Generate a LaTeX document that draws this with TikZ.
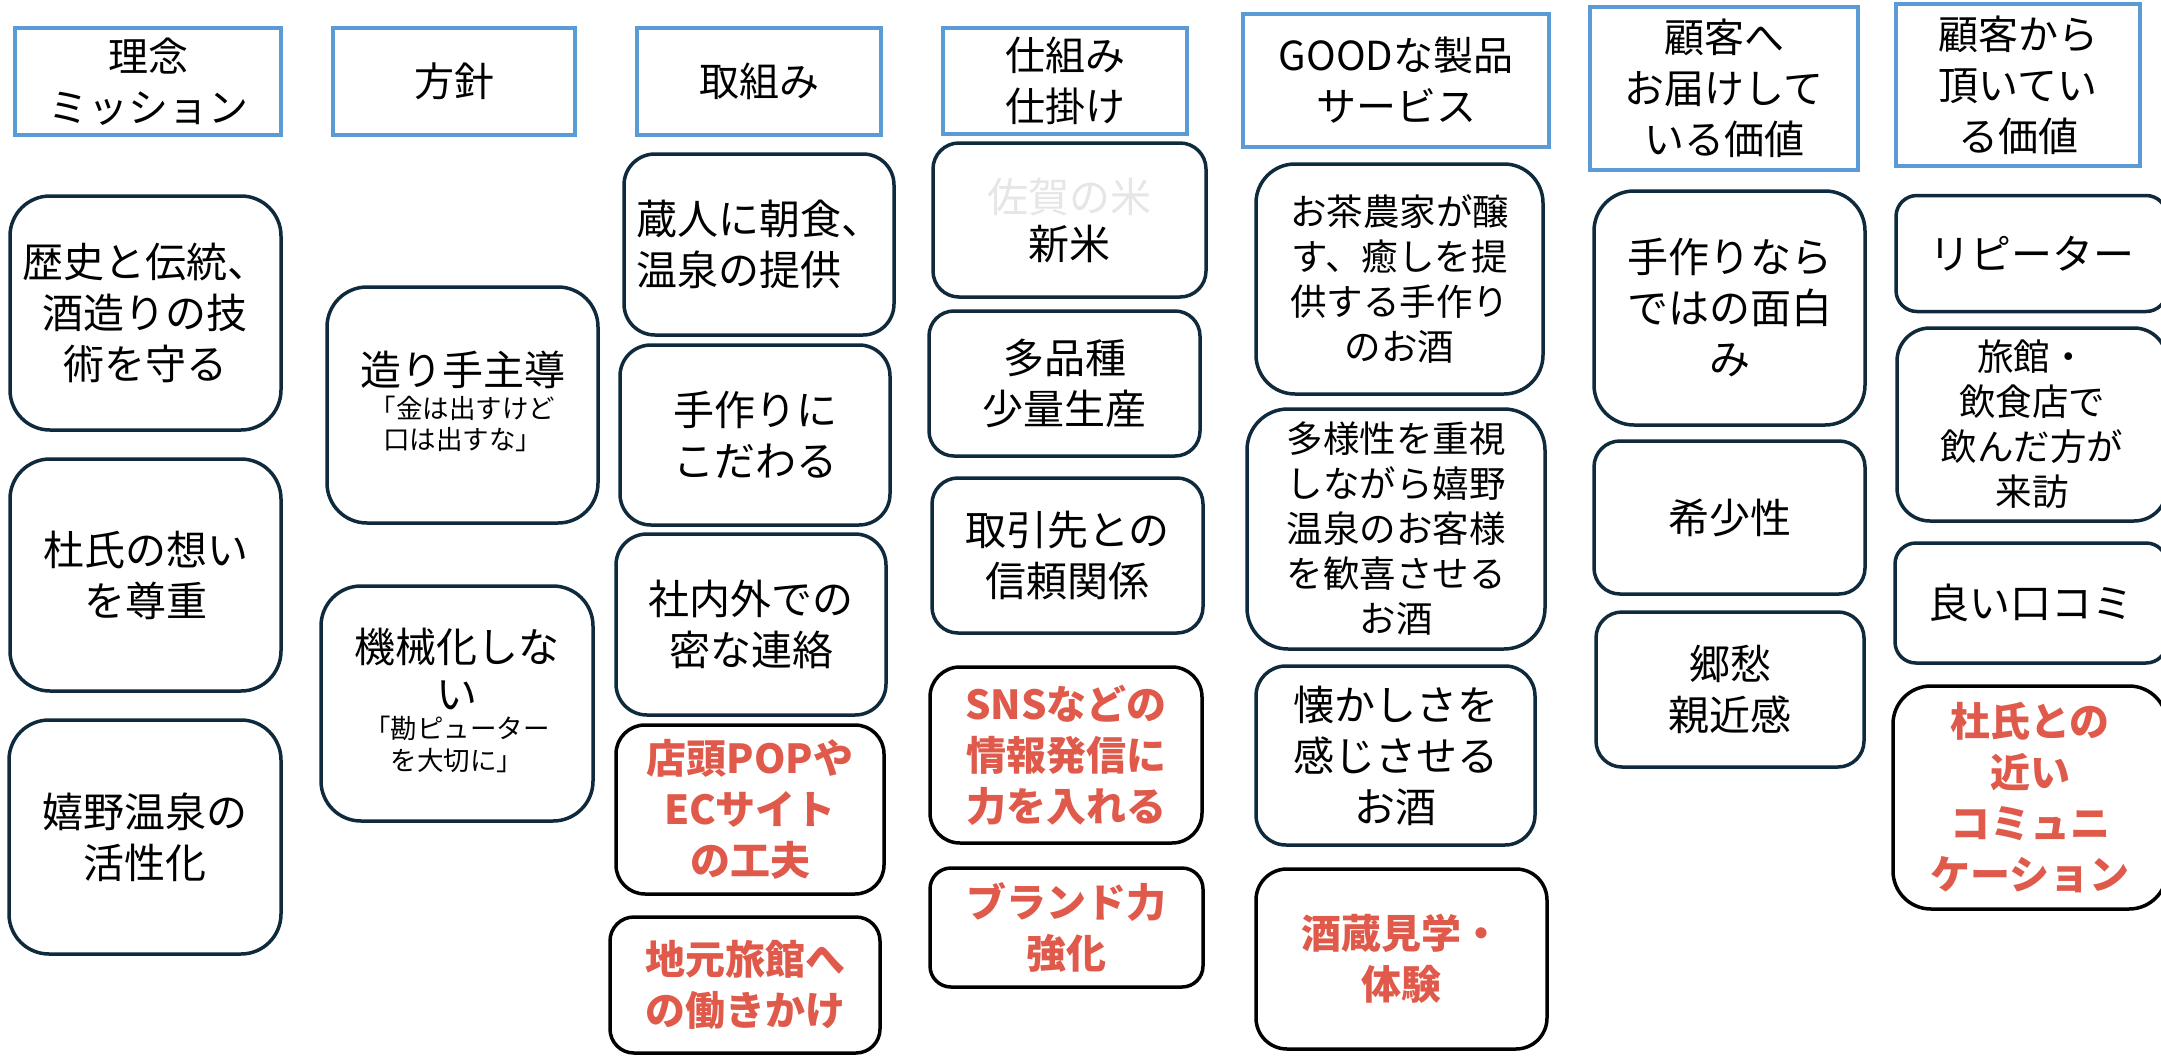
\documentclass[tikz,border=0pt]{standalone}
\usepackage{fontspec}
\newfontfamily\jp{Noto Sans CJK JP}
\definecolor{hblue}{HTML}{5B9BD5}
\definecolor{navy}{HTML}{0E2A3C}
\definecolor{redt}{HTML}{E05A4B}
\definecolor{faint}{HTML}{E6E6E6}
\tikzset{
  base/.style={inner sep=0pt, align=center, line width=3.5pt},
  hdr/.style={base, draw=hblue, font=\jp\fontsize{40}{51}\selectfont},
  rb/.style={base, draw=navy, font=\jp\fontsize{41}{51}\selectfont},
  rbs/.style={base, draw=navy, font=\jp\fontsize{36.5}{45}\selectfont},
  rbred/.style={base, draw=black, text=redt, font=\jp\bfseries\fontsize{40}{51}\selectfont},
  sz/.style 2 args={minimum width=#1pt, minimum height=#2pt},
}
\newcommand\smalltxt[1]{{\fontsize{26.5}{31}\selectfont\begin{tabular}{@{}c@{}}#1\end{tabular}}}
\begin{document}
\begin{tikzpicture}[x=1pt,y=-1pt]
\useasboundingbox (0,0) rectangle (2161,1057);
\fill[white] (0,0) rectangle (2161,1057);
\clip (0,0) rectangle (2161,1057);
% headers
\node[hdr, sz={266}{107}] (h1) at (148,81.5) {理念\\ミッション};
\node[hdr, sz={242}{107}] (h2) at (454,81.5) {方針};
\node[hdr, sz={244}{107}] (h3) at (759,81.5) {取組み};
\node[hdr, sz={244}{106}] (h4) at (1065,81) {仕組み\\仕掛け};
\node[hdr, sz={306}{133}] (h5) at (1396,80.5) {GOODな製品\\サービス};
\node[hdr, sz={268}{163}] (h6) at (1724,88.5) {顧客へ\\お届けして\\いる価値};
\node[hdr, sz={244}{162}] (h7) at (2018,85) {顧客から\\頂いてい\\る価値};
% column 1
\node[rb, sz={271}{234}, rounded corners=40pt] (b1a) at (145.5,313) {歴史と伝統、\\酒造りの技\\術を守る};
\node[rb, sz={271}{232}, rounded corners=40pt] (b1b) at (145.5,575) {杜氏の想い\\を尊重};
\node[rb, sz={272}{234}, rounded corners=40pt] (b1c) at (145,837) {嬉野温泉の\\活性化};
% column 2
\node[rb, sz={271}{236}, rounded corners=40pt] (b2a) at (462.5,405) {造り手主導\\[-3pt]\smalltxt{「金は出すけど\\口は出すな」}};
\node[rb, sz={272}{235}, rounded corners=40pt] (b2b) at (457,703.5) {機械化しな\\[-4pt]い\\[-6pt]\smalltxt{「勘ピューター\\を大切に」}};
% column 3
\node[rb, sz={270}{181}, rounded corners=31pt, align=left] (b3a) at (759,244.5) {蔵人に朝食、\\温泉の提供};
\node[rb, sz={270}{180}, rounded corners=31pt] (b3b) at (755,435) {手作りに\\こだわる};
\node[rb, sz={270}{181}, rounded corners=31pt] (b3c) at (751,624.5) {社内外での\\密な連絡};
\node[rbred, sz={268}{169}, rounded corners=29pt] (b3d) at (750,809.5) {店頭POPや\\ECサイト\\の工夫};
\node[rbred, sz={270}{136}, rounded corners=24pt] (b3e) at (745,985) {地元旅館へ\\の働きかけ};
% column 4
\node[rb, sz={273}{154}, rounded corners=26pt] (b4a) at (1069.5,220) {{\color{faint}佐賀の米}\\[-4pt]新米};
\node[rb, sz={271}{145}, rounded corners=25pt] (b4b) at (1064.5,383.5) {多品種\\少量生産};
\node[rb, sz={271}{155}, rounded corners=26pt] (b4c) at (1067.5,555.5) {取引先との\\信頼関係};
\node[rbred, sz={272}{176}, rounded corners=30pt] (b4d) at (1066,755) {SNSなどの\\情報発信に\\力を入れる};
\node[rbred, sz={273}{119}, rounded corners=21pt] (b4e) at (1066.5,927.5) {ブランド力\\強化};
% column 5
\node[rbs, sz={287}{230}, rounded corners=39pt] (b5a) at (1399.5,279) {お茶農家が醸\\す、癒しを提\\供する手作り\\のお酒};
\node[rbs, sz={298}{240}, rounded corners=41pt] (b5b) at (1396,529) {多様性を重視\\しながら嬉野\\温泉のお客様\\を歓喜させる\\お酒};
\node[rb, sz={279}{179}, rounded corners=30pt] (b5c) at (1395.5,755.5) {懐かしさを\\感じさせる\\お酒};
\node[rbred, sz={291}{180}, rounded corners=31pt] (b5d) at (1401.5,959) {酒蔵見学・\\体験};
% column 6
\node[rb, sz={271}{234}, rounded corners=40pt] (b6a) at (1729.5,308) {手作りなら\\ではの面白\\み};
\node[rb, sz={271}{153}, rounded corners=26pt] (b6b) at (1729.5,517.5) {希少性};
\node[rb, sz={268}{155}, rounded corners=26pt] (b6c) at (1730,689.5) {郷愁\\親近感};
% column 7
\node[rb, sz={271}{116}, rounded corners=21pt] (b7a) at (2031.5,253.5) {リピーター};
\node[rbs, sz={270}{193}, rounded corners=33pt] (b7b) at (2032,424.5) {旅館・\\飲食店で\\飲んだ方が\\来訪};
\node[rb, sz={272}{120}, rounded corners=21pt] (b7c) at (2031,603) {良い口コミ};
\node[rbred, sz={274}{223}, rounded corners=38pt] (b7d) at (2030,797.5) {杜氏との\\近い\\コミュニ\\ケーション};
\end{tikzpicture}
\end{document}
